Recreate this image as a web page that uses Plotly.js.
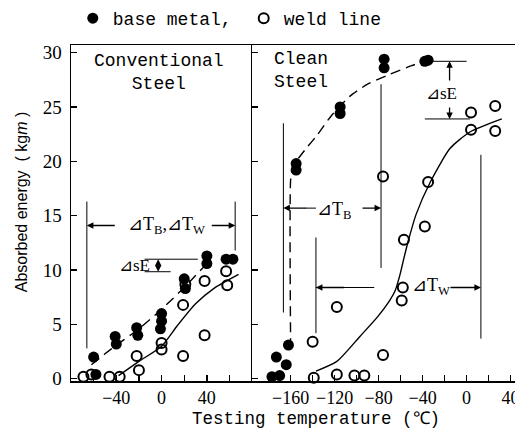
<!DOCTYPE html>
<html><head><meta charset="utf-8">
<script src="https://cdn.plot.ly/plotly-3.0.1.min.js"></script>
<style>html,body{margin:0;padding:0;background:#fff}</style>
</head><body>
<div id="chart" style="width:515px;height:430px"></div>
<script>
// ---- data ----
const convBaseT = [-60, -58, -41, -40, -22, -21, 0, 0, -1, 20, 21, 40, 40, 57, 63];
const convBaseE = [2.0, 0.4, 3.9, 3.2, 4.7, 4.0, 6.0, 5.3, 4.6, 9.2, 8.3, 11.3, 10.6, 11.0, 11.0];
const convWeldT = [-69, -62, -46, -37, -22, -20, 0, 0, 19, 19, 21, 38, 38, 57, 58];
const convWeldE = [0.2, 0.4, 0.2, 0.2, 2.1, 0.8, 3.3, 2.7, 6.8, 2.1, 8.7, 9.0, 4.0, 9.9, 8.6];
const cleanBaseT = [-177, -170, -173, -164, -162, -155, -155, -115, -115, -75, -75, -38, -35];
const cleanBaseE = [0.2, 0.3, 2.0, 1.3, 3.1, 19.8, 19.2, 25.0, 24.4, 29.4, 28.6, 29.2, 29.3];
const cleanWeldT = [-139, -118, -102, -93, -140, -118, -76, -59, -58, -57, -38, -35, -76, 4, 4, 26, 26];
const cleanWeldE = [0.1, 0.4, 0.3, 0.3, 3.4, 6.6, 2.2, 7.2, 8.4, 12.8, 14.0, 18.1, 18.6, 24.5, 22.9, 25.1, 22.8];

// fitted curves
const convBaseCurveT = [-62, -50, -40, -20, 0, 20, 30, 42];
const convBaseCurveE = [1.3, 2.3, 3.1, 4.6, 6.4, 8.4, 9.5, 10.8];
const convWeldCurveT = [-38, -20, 0, 14, 30, 46, 68];
const convWeldCurveE = [0.3, 1.6, 3.0, 4.9, 6.9, 8.3, 9.6];
const cleanBaseCurveT = [-160, -160, -158, -152, -145, -136, -123, -106, -90, -70, -50, -38];
const cleanBaseCurveE = [2.8, 18.3, 19.6, 20.4, 21.3, 22.4, 24.2, 26.0, 27.1, 28.0, 28.8, 29.2];
const cleanWeldCurveT = [-137, -118, -97, -81, -70, -65, -60.5, -57, -53, -46, -33, -15, 3, 32];
const cleanWeldCurveE = [0.7, 1.6, 3.9, 5.7, 7.2, 8.1, 9.6, 11.1, 12.7, 15.1, 18.1, 21.2, 22.7, 23.9];

// ticks and labels
const yTicks = [0, 5, 10, 15, 20, 25, 30];
const convTicks = [-40, 0, 40];
const convMinor = [-60, -20, 20, 60];
const cleanTicks = [-160, -120, -80, -40, 0, 40];
const cleanMinor = [-180, -140, -100, -60, -20, 20];
const seriesNames = ['base metal,', 'weld line'];
const panelNames = ['Conventional<br>Steel', 'Clean<br>Steel'];
const xTitle = 'Testing temperature (℃)';
const yTitle = 'Absorbed energy  ( kg<i>m</i> )';
const labelConvT = '⊿T<sub>B</sub>,⊿T<sub>W</sub>';
const labelTB = '⊿T<sub>B</sub>';
const labelTW = '⊿T<sub>W</sub>';
const labelSE = '⊿sE';

// guide lines: [x0, y0, x1, y1] in data units
const convGuides = [[-66, 2.8, -66, 16.3], [65, 11.8, 65, 16.3],
  [-15, 11.0, 32, 11.0], [-15, 9.85, 8, 9.85]];
const cleanGuides = [[-166.6, 6.1, -166.6, 23.5], [-77.8, 10.2, -77.8, 27.1],
  [-137, 4.2, -137, 13.0], [13, 3.7, 13, 20.6],
  [-34, 29.2, 0, 29.2], [-38, 23.9, 3, 23.9],
  [-137, 8.4, -84, 8.4], [-137, 15.7, -147, 15.7]];

const mono = 'Liberation Mono, monospace';
const serif = 'Liberation Serif, Times New Roman, serif';

function pts(x, y, xa, filled, name, legend, show) {
  return {x: x, y: y, xaxis: xa, yaxis: xa === 'x' ? 'y' : 'y2', type: 'scatter', mode: 'markers',
    name: name, legend: legend, showlegend: show, cliponaxis: false,
    marker: filled ? {size: 11, color: '#000', symbol: 'circle'}
                   : {size: 10, color: '#000', symbol: 'circle-open', line: {color: '#000', width: 2}}};
}
function curve(x, y, xa, dashed) {
  return {x: x, y: y, xaxis: xa, yaxis: xa === 'x' ? 'y' : 'y2', type: 'scatter', mode: 'lines',
    showlegend: false, hoverinfo: 'skip',
    line: {color: '#000', width: 1.4, shape: 'spline', smoothing: 0.6, dash: dashed ? '10px,6px' : 'solid'}};
}

const data = [
  curve(convBaseCurveT, convBaseCurveE, 'x', true),
  curve(convWeldCurveT, convWeldCurveE, 'x', false),
  curve(cleanBaseCurveT, cleanBaseCurveE, 'x2', true),
  curve(cleanWeldCurveT, cleanWeldCurveE, 'x2', false),
  pts(convWeldT, convWeldE, 'x', false, seriesNames[1], 'legend2', true),
  pts(convBaseT, convBaseE, 'x', true, seriesNames[0], 'legend', true),
  pts(cleanWeldT, cleanWeldE, 'x2', false, seriesNames[1], 'legend2', false),
  pts(cleanBaseT, cleanBaseE, 'x2', true, seriesNames[0], 'legend', false)
];

const shapes = [];
convGuides.forEach(g => shapes.push({type: 'line', xref: 'x', yref: 'y', x0: g[0], y0: g[1], x1: g[2], y1: g[3], line: {color: '#000', width: 1}}));
cleanGuides.forEach(g => shapes.push({type: 'line', xref: 'x2', yref: 'y2', x0: g[0], y0: g[1], x1: g[2], y1: g[3], line: {color: '#000', width: 1}}));

function arrow(xr, yr, x, y, ax, ay) {
  return {xref: xr, yref: yr, axref: xr, ayref: yr, x: x, y: y, ax: ax, ay: ay, text: '',
    showarrow: true, arrowhead: 2, arrowsize: 1, arrowwidth: 1.3, arrowcolor: '#000'};
}
function txt(xr, yr, x, y, t, size, fam) {
  return {xref: xr, yref: yr, x: x, y: y, text: t, showarrow: false,
    font: {family: fam, size: size, color: '#000'}, xanchor: 'center', yanchor: 'middle'};
}

const annotations = [
  txt('x', 'y', -2, 28.2, panelNames[0], 18, mono),
  txt('x2', 'y2', -151, 28.4, panelNames[1], 18, mono),
  txt('x', 'y', 4, 14.1, labelConvT, 18, serif),
  arrow('x', 'y', -66, 14.1, -40, 14.1),
  arrow('x', 'y', 65, 14.1, 43, 14.1),
  txt('x', 'y', -24, 10.45, labelSE, 17, serif),
  arrow('x', 'y', -3, 11.0, -3, 10.3),
  arrow('x', 'y', -3, 9.85, -3, 10.4),
  txt('x2', 'y2', -120.5, 15.5, labelTB, 18, serif),
  arrow('x2', 'y2', -166.6, 15.7, -145, 15.7),
  arrow('x2', 'y2', -77.8, 15.7, -96, 15.7),
  txt('x2', 'y2', -32, 8.5, labelTW, 18, serif),
  arrow('x2', 'y2', -137, 8.4, -110, 8.4),
  arrow('x2', 'y2', 13, 8.4, -16, 8.4),
  txt('x2', 'y2', -23, 26.2, labelSE, 17, serif),
  arrow('x2', 'y2', -15.5, 29.2, -15.5, 27.3),
  arrow('x2', 'y2', -15.5, 23.9, -15.5, 25.1),
  {xref: 'paper', yref: 'paper', x: 0.552, y: -0.114, text: xTitle, showarrow: false,
    font: {family: mono, size: 17.5, color: '#000'}, xanchor: 'center', yanchor: 'middle'},
  {xref: 'paper', yref: 'paper', x: -0.1126, y: 0.532, text: yTitle, showarrow: false, textangle: -90,
    font: {family: 'Liberation Sans, Arial, sans-serif', size: 16, color: '#000'}, xanchor: 'center', yanchor: 'middle'}
];

const axBase = {showline: true, linecolor: '#000', linewidth: 1.5, mirror: true, ticks: 'inside',
  ticklen: 6, tickcolor: '#000', tickwidth: 1.3, showgrid: false, zeroline: false,
  tickfont: {family: serif, size: 18, color: '#000'}, ticklabelstandoff: 0, ticklabeloverflow: 'allow'};

const layout = {
  width: 515, height: 430, margin: {l: 71, r: 0, t: 42, b: 49},
  paper_bgcolor: '#fff', plot_bgcolor: '#fff',
  xaxis: Object.assign({}, axBase, {domain: [0, 0.408], range: [-80, 80], tickmode: 'array', tickvals: convTicks,
    minor: {tickvals: convMinor, ticks: 'inside', ticklen: 6, tickcolor: '#000'}, anchor: 'y'}),
  xaxis2: Object.assign({}, axBase, {domain: [0.408, 1], range: [-195, 44], tickmode: 'array', tickvals: cleanTicks,
    minor: {tickvals: cleanMinor, ticks: 'inside', ticklen: 6, tickcolor: '#000'}, anchor: 'y2'}),
  yaxis: Object.assign({}, axBase, {range: [-0.2, 30.7], tickmode: 'array', tickvals: yTicks, anchor: 'x', mirror: false,
    ticklabelstandoff: 4, tickfont: {family: serif, size: 19, color: '#000'}}),
  yaxis2: Object.assign({}, axBase, {range: [-0.2, 30.7], tickmode: 'array', tickvals: yTicks, anchor: 'x2',
    showticklabels: false, mirror: false, matches: 'y'}),
  legend: {orientation: 'h', x: 0.004, xanchor: 'left', y: 1.08, yanchor: 'middle', bgcolor: 'rgba(0,0,0,0)',
    font: {family: mono, size: 18, color: '#000'}},
  legend2: {orientation: 'h', x: 0.389, xanchor: 'left', y: 1.08, yanchor: 'middle', bgcolor: 'rgba(0,0,0,0)',
    font: {family: mono, size: 18, color: '#000'}},
  shapes: shapes, annotations: annotations, showlegend: true
};

Plotly.newPlot('chart', data, layout, {displayModeBar: false, staticPlot: true});
</script>
</body></html>
